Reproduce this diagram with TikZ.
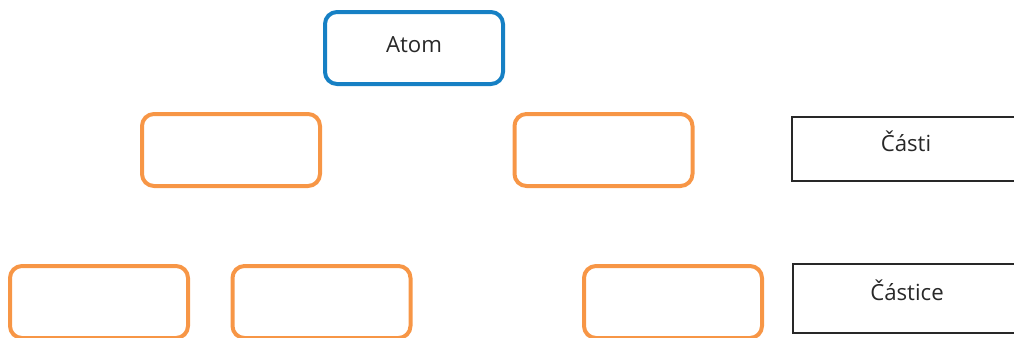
\documentclass[tikz,border=0pt]{standalone}
\usepackage{fontspec}
\setmainfont{Open Sans}
\usetikzlibrary{positioning}
\definecolor{atomblue}{RGB}{22,128,196}
\definecolor{partorange}{RGB}{247,150,70}
\definecolor{labelgray}{RGB}{40,40,40}

\begin{document}
\begin{tikzpicture}[
    x=0.5pt, y=-0.5pt,
    every node/.style = {font=\fontsize{11.1}{13}\selectfont, text=labelgray},
    rbox/.style = {draw, line width=2pt, rounded corners=6pt,
                   minimum width=89pt, minimum height=36pt, inner sep=0pt},
    topbox/.style = {rbox, draw=atomblue},
    partbox/.style = {rbox, draw=partorange},
    legend/.style = {draw=labelgray, line width=0.75pt,
                     minimum width=114pt, inner sep=0pt},
    lift/.style = {text height=8pt, text depth=#1},
  ]
    \useasboundingbox (0,0) rectangle (1014,338);
    \clip (0,0) rectangle (1014,338);
    % top level
    \node[topbox, lift=4pt] (atom) at (414,48) {Atom};
    % parts
    \node[partbox] (partl) at (231,150) {};
    \node[partbox] (partr) at (603.5,150) {};
    % particles
    \node[partbox] (subl) at (99,302) {};
    \node[partbox] (subm) at (321.5,302) {};
    \node[partbox] (subr) at (673,302) {};
    % row labels on the right
    \node[legend, lift=6pt, minimum height=32pt] (casti) at (906,149) {Části};
    \node[legend, lift=6pt, minimum height=34.5pt] (castice) at (907,298.5) {Částice};
  \end{tikzpicture}
\end{document}
